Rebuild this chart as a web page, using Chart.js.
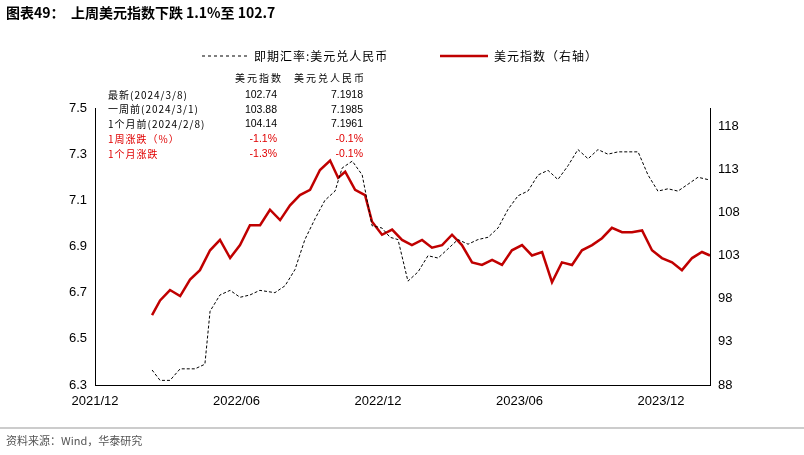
<!DOCTYPE html><html><head><meta charset="utf-8">
<script src="https://cdn.jsdelivr.net/npm/chart.js@4"></script>
<style>html,body{margin:0;padding:0;background:#fff}#w{width:804px;height:455px;position:relative}</style>
</head><body><div id="w"><canvas id="c" width="804" height="455"></canvas></div>
<script>
// months since 2021/12/1
const dxyX=[2.42,2.76,3.18,3.61,4.03,4.45,4.88,5.30,5.73,6.15,6.57,7.00,7.42,7.85,8.27,8.69,9.12,9.54,9.97,10.31,10.61,11.03,11.45,11.75,12.17,12.60,13.02,13.44,13.87,14.29,14.72,15.14,15.56,15.99,16.41,16.84,17.26,17.68,18.11,18.53,18.96,19.38,19.80,20.23,20.65,21.08,21.50,21.92,22.35,22.77,23.20,23.62,24.04,24.47,24.89,25.32,25.74,26.08];
const dxyY=[96.1,97.8,99.0,98.3,100.2,101.3,103.6,104.8,102.7,104.2,106.5,106.5,108.3,107.1,108.8,110.0,110.6,112.9,114.0,112.0,112.7,110.6,110.0,106.9,105.4,106.0,104.8,104.2,104.8,103.9,104.2,105.4,104.2,102.2,101.9,102.5,101.9,103.6,104.2,103.0,103.4,99.9,102.2,101.9,103.6,104.2,105.0,106.2,105.7,105.7,105.9,103.6,102.7,102.2,101.3,102.7,103.4,103.0];
const cnyX=[2.42,2.76,3.18,3.61,4.24,4.66,4.88,5.30,5.73,6.15,6.57,6.99,7.63,8.06,8.48,8.90,9.33,9.75,10.18,10.48,10.91,11.33,11.75,12.17,12.51,12.85,13.27,13.70,14.12,14.55,14.97,15.39,15.82,16.24,16.67,17.09,17.51,17.94,18.36,18.79,19.21,19.63,20.06,20.48,20.91,21.33,21.75,22.18,22.60,23.03,23.45,23.87,24.30,24.72,25.15,25.57,25.99];
const cnyY=[6.365,6.32,6.32,6.37,6.37,6.39,6.62,6.69,6.71,6.68,6.69,6.71,6.70,6.73,6.80,6.93,7.02,7.10,7.14,7.24,7.27,7.21,6.99,6.98,6.94,6.93,6.75,6.79,6.86,6.85,6.89,6.93,6.91,6.93,6.94,6.98,7.06,7.12,7.14,7.21,7.23,7.19,7.25,7.32,7.28,7.32,7.30,7.31,7.31,7.31,7.21,7.14,7.15,7.14,7.17,7.20,7.19];
const xTicks={0:'2021/12',6:'2022/06',12:'2022/12',18:'2023/06',24:'2023/12'};
const leftTicks=[6.3,6.5,6.7,6.9,7.1,7.3,7.5];
const rightTicks=[88,93,98,103,108,113,118];
const tblHead=['美元指数','美元兑人民币'];
const tblRows=[['最新(2024/3/8)','102.74','7.1918'],['一周前(2024/3/1)','103.88','7.1985'],['1个月前(2024/2/8)','104.14','7.1961'],['1周涨跌（%）','-1.1%','-0.1%'],['1个月涨跌','-1.3%','-0.1%']];
const F='"Noto Sans CJK SC","Liberation Sans",sans-serif';
const deco={id:'deco',afterDraw(ch){const c=ch.ctx;c.save();
c.fillStyle='#000';c.font='bold 14px '+F;c.textBaseline='middle';c.fillText('图表49：  上周美元指数下跌 1.1%至 102.7',6,13);
c.strokeStyle='#999';c.lineWidth=1;c.beginPath();c.moveTo(0,428);c.lineTo(804,428);c.stroke();
c.fillStyle='#555';c.font='11px '+F;c.fillText('资料来源：Wind，华泰研究',6,441);
// legend
c.strokeStyle='#000';c.lineWidth=1;c.setLineDash([3,3]);c.beginPath();c.moveTo(202,56);c.lineTo(248,56);c.stroke();c.setLineDash([]);
c.fillStyle='#000';c.font='12px '+F;c.letterSpacing='1px';c.fillText('即期汇率:美元兑人民币',254,56);
c.strokeStyle='#c00000';c.lineWidth=2.5;c.beginPath();c.moveTo(440,56);c.lineTo(488,56);c.stroke();
c.fillText('美元指数（右轴）',494,56);
// table
c.font='10px '+F;c.letterSpacing='2px';c.textAlign='right';c.fillText(tblHead[0],283,78);c.fillText(tblHead[1],366,78);
tblRows.forEach((r,i)=>{const y=95+i*14.7;c.fillStyle=i>2?'#e00000':'#000';c.textAlign='left';c.font='10px '+F;c.letterSpacing='1px';c.fillText(r[0],108,y);c.letterSpacing='0px';c.textAlign='right';c.font='10.5px "Liberation Sans"';c.fillText(r[1],277,y);c.fillText(r[2],363,y);});
c.restore();}};
new Chart(document.getElementById('c'),{type:'line',
data:{datasets:[
{label:'即期汇率:美元兑人民币',data:cnyX.map((x,i)=>({x,y:cnyY[i]})),borderColor:'#000',borderWidth:1,borderDash:[3,2],pointRadius:0,yAxisID:'y',tension:0},
{label:'美元指数（右轴）',data:dxyX.map((x,i)=>({x,y:dxyY[i]})),borderColor:'#c00000',borderWidth:2.5,pointRadius:0,yAxisID:'y1',tension:0}]},
options:{responsive:false,animation:false,layout:{padding:{top:108,left:0,right:0,bottom:0}},
plugins:{legend:{display:false},tooltip:{enabled:false}},
scales:{
x:{type:'linear',min:0,max:26.08,afterFit:s=>{s.height=70},afterBuildTicks:s=>{s.ticks=Object.keys(xTicks).map(v=>({value:+v}))},
 grid:{display:false,drawTicks:true,tickLength:5},border:{color:'#000'},ticks:{color:'#000',font:{size:13,family:'Liberation Sans'},callback:v=>xTicks[v]||'',maxRotation:0,padding:4}},
y:{position:'left',min:6.3,max:7.5,afterFit:s=>{s.width=95},afterBuildTicks:s=>{s.ticks=leftTicks.map(v=>({value:v}))},grid:{display:false,tickLength:5},border:{color:'#000'},ticks:{color:'#000',font:{size:13,family:'Liberation Sans'},callback:v=>v.toFixed(1)}},
y1:{position:'right',min:88,max:120.08,afterFit:s=>{s.width=94},afterBuildTicks:s=>{s.ticks=rightTicks.map(v=>({value:v}))},grid:{display:false,tickLength:5},border:{color:'#000'},ticks:{color:'#000',font:{size:13,family:'Liberation Sans'}}}}},
plugins:[deco]});
</script></body></html>
